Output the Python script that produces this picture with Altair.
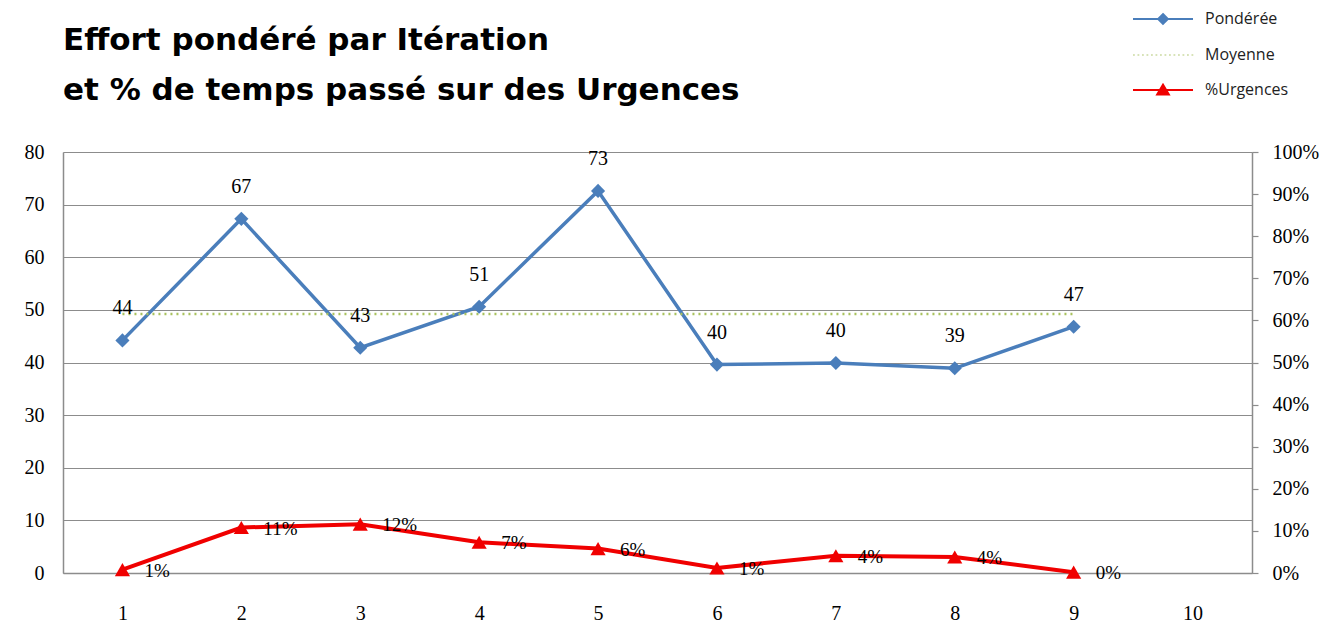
import altair as alt
import pandas as pd

# ---- data ----
iterations = [1, 2, 3, 4, 5, 6, 7, 8, 9]
ponderee = [44.2, 67.3, 42.8, 50.6, 72.6, 39.6, 39.9, 38.9, 46.8]
moyenne = [49.2, 49.2, 49.2, 49.2, 49.2, 49.2, 49.2, 49.2, 49.2]
urgences = [0.008, 0.108, 0.116, 0.073, 0.058, 0.012, 0.041, 0.038, 0.002]
x_ticks = [1, 2, 3, 4, 5, 6, 7, 8, 9, 10]
left_ticks = [0, 10, 20, 30, 40, 50, 60, 70, 80]
right_ticks = [0.0, 0.1, 0.2, 0.3, 0.4, 0.5, 0.6, 0.7, 0.8, 0.9, 1.0]
series_names = ["Pondérée", "Moyenne", "%Urgences"]
title_lines = ["Effort pondéré par Itération", "et % de temps passé sur des Urgences"]

BLUE = "#4A7EBB"
GREEN = "#A9C25E"
RED = "#F00000"
GRID = "#8C8C8C"
SERIF = "Liberation Serif"

df = pd.DataFrame({
    "iteration": iterations,
    "ponderee": ponderee,
    "moyenne": moyenne,
    "urgences": urgences,
})
legend_df = pd.DataFrame({"series": series_names})

x_axis = alt.Axis(values=x_ticks, format="d", grid=False, ticks=False, tickSize=0,
                  labelPadding=30, labelFontSize=20, labelFont=SERIF, labelColor="#000",
                  domainColor=GRID, domainWidth=1.5, title=None)
x_enc = alt.X("iteration:Q", scale=alt.Scale(domain=[0.5, 10.5], nice=False, zero=False), axis=x_axis)

left_axis = alt.Axis(values=left_ticks, grid=True, gridColor=GRID, gridWidth=1.2,
                     ticks=False, tickSize=0, labelPadding=19, labelFontSize=20,
                     labelFont=SERIF, labelColor="#000", domainColor=GRID, domainWidth=1.5,
                     title=None)
left_scale = alt.Scale(domain=[0, 80], nice=False)

right_axis = alt.Axis(orient="right", values=right_ticks, format=".0%", grid=False,
                      ticks=True, tickSize=6, tickColor=GRID, tickWidth=1.2,
                      labelPadding=14, labelFontSize=20, labelFont=SERIF,
                      labelColor="#000", domainColor=GRID, domainWidth=1.5, title=None)
right_scale = alt.Scale(domain=[0, 1], nice=False)

base = alt.Chart(df)

# ---- left-axis group ----
pond_line = base.mark_line(color=BLUE, strokeWidth=3.5).encode(
    x=x_enc, y=alt.Y("ponderee:Q", scale=left_scale, axis=left_axis))
pond_pts = base.mark_point(shape="diamond", filled=True, size=200, color=BLUE, opacity=1).encode(
    x=x_enc, y=alt.Y("ponderee:Q", scale=left_scale, axis=left_axis))
pond_txt = base.mark_text(dy=-32, fontSize=20, font=SERIF, color="#000").encode(
    x=x_enc, y=alt.Y("ponderee:Q", scale=left_scale, axis=left_axis),
    text=alt.Text("ponderee:Q", format=".0f"))
moy_line = base.mark_line(color=GREEN, strokeWidth=2.5, strokeDash=[2, 4]).encode(
    x=x_enc, y=alt.Y("moyenne:Q", scale=left_scale, axis=left_axis))

# custom legend symbols: line + marker
diamond_path = "M-3,0H3M0,-0.5L0.5,0L0,0.5L-0.5,0Z"
dots = "".join("M%.2f,0H%.2f" % (-3 + i * 0.45, -3 + i * 0.45 + 0.18) for i in range(14))
triangle_path = "M-3,0H3M0,-0.55L0.6,0.45L-0.6,0.45Z"
legend_paths = [diamond_path, dots, triangle_path]
legend_colors = [BLUE, "#D8E3B8", RED]

leg = alt.Legend(title=None, orient="none", legendX=1089, legendY=-144,
                 symbolSize=400, symbolStrokeWidth=1.8, symbolOpacity=1,
                 labelFont="Open Sans", labelFontSize=16, labelColor="#222",
                 labelOffset=31, rowPadding=16, padding=0)
legend_layer = alt.Chart(legend_df).mark_point(filled=True, opacity=1).encode(
    fill=alt.Fill("series:N", scale=alt.Scale(domain=series_names, range=legend_colors), legend=leg),
    stroke=alt.Stroke("series:N", scale=alt.Scale(domain=series_names, range=legend_colors), legend=leg),
    shape=alt.Shape("series:N", scale=alt.Scale(domain=series_names, range=legend_paths), legend=leg),
).transform_filter("false")

left_group = alt.layer(pond_line, moy_line, pond_pts, pond_txt, legend_layer)

# ---- right-axis group ----
urg_line = base.mark_line(color=RED, strokeWidth=4).encode(
    x=x_enc, y=alt.Y("urgences:Q", scale=right_scale, axis=right_axis))
urg_pts = base.mark_point(shape="triangle-up", filled=True, size=230, color=RED, opacity=1).encode(
    x=x_enc, y=alt.Y("urgences:Q", scale=right_scale, axis=right_axis))
urg_txt = base.mark_text(align="left", dx=22, dy=1, fontSize=19, font=SERIF, color="#000").encode(
    x=x_enc, y=alt.Y("urgences:Q", scale=right_scale, axis=right_axis),
    text=alt.Text("urgences:Q", format=".0%"))
right_group = alt.layer(urg_line, urg_pts, urg_txt)

chart = alt.layer(left_group, right_group).resolve_scale(y="independent").properties(
    width=1189, height=421,
    title=alt.Title(text=title_lines, anchor="start", frame="group", font="DejaVu Sans",
                    fontSize=31, fontWeight="bold", color="#000", lineHeight=50,
                    baseline="top", offset=0, dy=99),
    autosize=alt.AutoSizeParams(type="none"),
    padding={"left": 55, "top": 144, "right": 72, "bottom": 51},
).configure_view(stroke=None).configure(background="white")

chart.save("out.html", embed_options={"renderer": "svg", "actions": False})
